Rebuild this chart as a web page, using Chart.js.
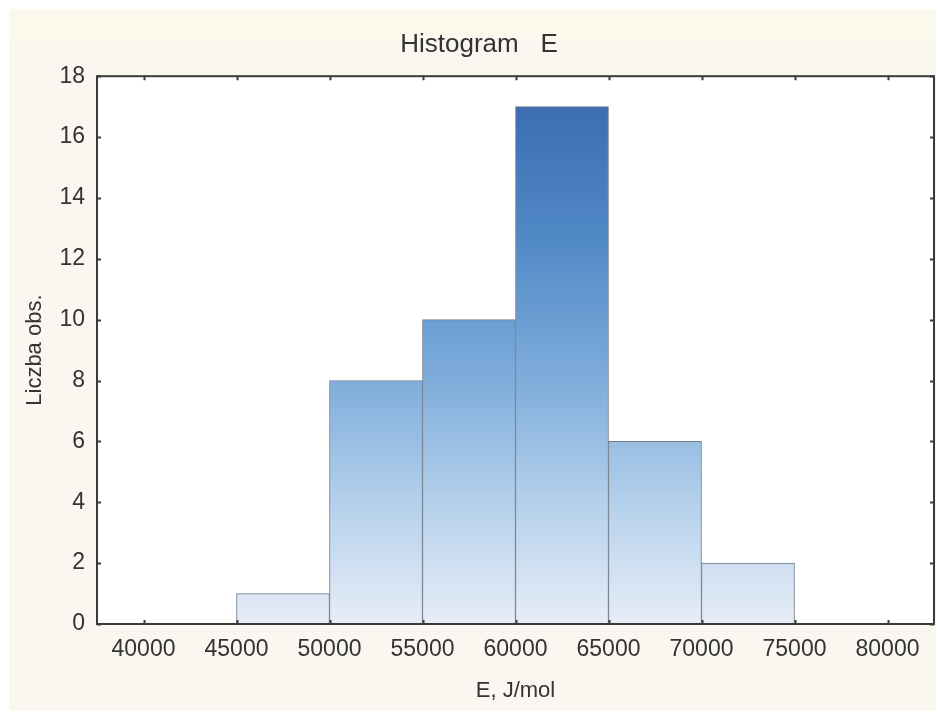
<!DOCTYPE html>
<html>
<head>
<meta charset="utf-8">
<script src="https://cdn.jsdelivr.net/npm/chart.js@4"></script>
<style>
  html, body { margin: 0; padding: 0; background: #ffffff; }
  #wrap { width: 936px; height: 711px; }
</style>
</head>
<body>
<div id="wrap"><canvas id="c" width="936" height="711"></canvas></div>
<script>
// ---- data ----
const binStarts = [45000, 50000, 55000, 60000, 65000, 70000];
const binWidth = 5000;
const counts = [1, 8, 10, 17, 6, 2];
const xTicks = [40000, 45000, 50000, 55000, 60000, 65000, 70000, 75000, 80000];
const yTicks = [0, 2, 4, 6, 8, 10, 12, 14, 16, 18];
const chartTitle = 'Histogram   E';
const xTitle = 'E, J/mol';
const yTitle = 'Liczba obs.';

const points = binStarts.map((s, i) => ({ x: s + binWidth / 2, y: counts[i] }));

const FONT = "'Liberation Sans', Arial, sans-serif";
const TXT = '#333333';

let gradCache = null;
function barGradient(ctx) {
  const chart = ctx.chart;
  const ca = chart.chartArea;
  if (!ca) return '#7aa6d6';
  if (gradCache && gradCache.top === ca.top && gradCache.bottom === ca.bottom) return gradCache.g;
  const g = chart.ctx.createLinearGradient(0, ca.top, 0, ca.bottom);
  g.addColorStop(0.0, '#3767ac');
  g.addColorStop(0.3, '#5189c7');
  g.addColorStop(0.55, '#7eacdb');
  g.addColorStop(0.8, '#b9d3ed');
  g.addColorStop(1.0, '#e7edf6');
  gradCache = { top: ca.top, bottom: ca.bottom, g };
  return g;
}

const backgroundPlugin = {
  id: 'bg',
  beforeDraw(chart) {
    const c = chart.ctx, ca = chart.chartArea;
    c.save();
    c.fillStyle = '#ffffff';
    c.fillRect(0, 0, chart.width, chart.height);
    c.fillStyle = '#faf6f0';
    c.fillRect(9, 9, chart.width - 9, chart.height - 9);
    c.fillStyle = '#fbf8ec';
    c.fillRect(9, 9, chart.width - 9, 30);
    c.fillStyle = '#ffffff';
    c.fillRect(ca.left, ca.top, ca.right - ca.left, ca.bottom - ca.top);
    c.restore();
  }
};

const framePlugin = {
  id: 'frame',
  afterDraw(chart) {
    const c = chart.ctx, ca = chart.chartArea;
    const xs = chart.scales.x, ys = chart.scales.y;
    c.save();
    c.strokeStyle = '#3a3a3a';
    c.lineWidth = 2;
    c.strokeRect(ca.left, ca.top, ca.right - ca.left, ca.bottom - ca.top);
    c.lineWidth = 2;
    c.beginPath();
    const L = 4;
    xTicks.forEach(v => {
      const px = Math.round(xs.getPixelForValue(v)) + 0.5;
      c.moveTo(px, ca.bottom); c.lineTo(px, ca.bottom - L);
      c.moveTo(px, ca.top); c.lineTo(px, ca.top + L);
    });
    yTicks.forEach(v => {
      const py = Math.round(ys.getPixelForValue(v)) + 0.5;
      c.moveTo(ca.left, py); c.lineTo(ca.left + L, py);
      c.moveTo(ca.right, py); c.lineTo(ca.right - L, py);
    });
    c.stroke();
    c.restore();
  }
};

new Chart(document.getElementById('c'), {
  type: 'bar',
  data: {
    datasets: [{
      data: points,
      backgroundColor: barGradient,
      borderColor: '#6f7c8a',
      borderWidth: 1,
      borderSkipped: false,
      barPercentage: 1.0,
      categoryPercentage: 1.0
    }]
  },
  options: {
    responsive: false,
    animation: false,
    devicePixelRatio: 1,
    layout: { padding: { left: 24, right: 2, top: 0, bottom: 0 } },
    plugins: {
      legend: { display: false },
      tooltip: { enabled: false },
      title: {
        display: true,
        text: chartTitle,
        color: TXT,
        font: { family: FONT, size: 26, weight: 'normal' },
        padding: { top: 29, bottom: 16 }
      }
    },
    scales: {
      x: {
        type: 'linear',
        min: 37500,
        max: 82500,
        offset: false,
        grid: { display: false, drawTicks: false },
        border: { display: false },
        afterBuildTicks: s => { s.ticks = xTicks.map(v => ({ value: v })); },
        afterFit: s => { s.height = 87; },
        ticks: {
          autoSkip: false,
          maxRotation: 0,
          padding: 12,
          color: TXT,
          font: { family: FONT, size: 23 },
          callback: v => String(v)
        },
        title: {
          display: true,
          text: xTitle,
          color: TXT,
          font: { family: FONT, size: 22 },
          padding: { top: 0, bottom: 7 }
        }
      },
      y: {
        min: 0,
        max: 18,
        grid: { display: false, drawTicks: false },
        border: { display: false },
        afterBuildTicks: s => { s.ticks = yTicks.map(v => ({ value: v })); },
        afterFit: s => { s.width = 73; },
        ticks: {
          padding: 12,
          color: TXT,
          font: { family: FONT, size: 23 },
          callback: v => String(v)
        },
        title: {
          display: true,
          text: yTitle,
          color: TXT,
          font: { family: FONT, size: 22 },
          padding: { top: -2, bottom: 0 }
        }
      }
    }
  },
  plugins: [backgroundPlugin, framePlugin]
});
</script>
</body>
</html>
